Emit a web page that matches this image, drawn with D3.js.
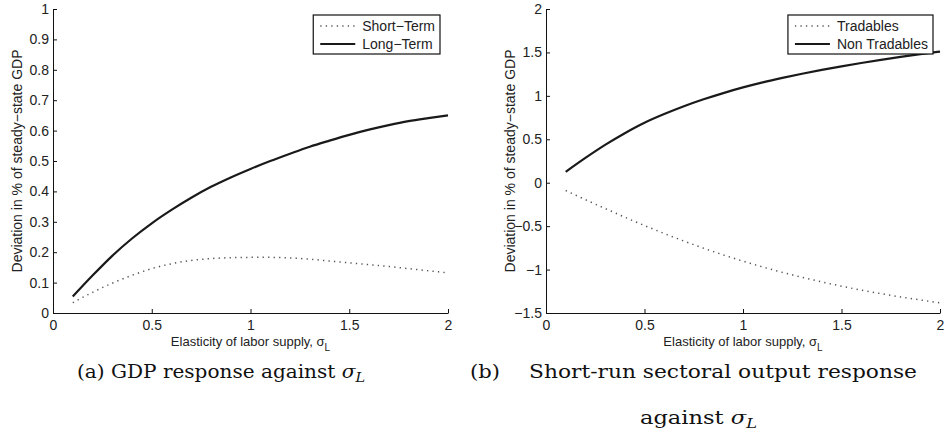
<!DOCTYPE html>
<html><head><meta charset="utf-8">
<script src="https://cdn.jsdelivr.net/npm/d3@7"></script>
<style>body{margin:0;background:#fff}svg{display:block}</style>
</head><body>
<svg id="c" width="945" height="443"></svg>
<script>
// ---- data ----
const sigmaL = [0.1,0.2,0.3,0.4,0.5,0.6,0.7,0.8,0.9,1.0,1.1,1.2,1.3,1.4,1.5,1.6,1.7,1.8,1.9,2.0];
const shortTerm = [0.034,0.068,0.098,0.124,0.146,0.162,0.173,0.179,0.182,0.183,0.183,0.181,0.177,0.171,0.165,0.159,0.153,0.146,0.139,0.132];
const longTerm  = [0.054,0.123,0.188,0.245,0.295,0.339,0.379,0.415,0.446,0.474,0.500,0.524,0.547,0.567,0.586,0.603,0.618,0.631,0.641,0.650];
const tradables    = [-0.09,-0.195,-0.297,-0.397,-0.493,-0.585,-0.672,-0.754,-0.831,-0.903,-0.970,-1.032,-1.089,-1.142,-1.191,-1.236,-1.277,-1.315,-1.350,-1.382];
const nonTradables = [0.125,0.285,0.435,0.57,0.69,0.79,0.88,0.96,1.032,1.097,1.155,1.207,1.255,1.299,1.34,1.378,1.414,1.448,1.48,1.51];
const xTicks  = [0,0.5,1,1.5,2];
const yTicksA = [0,0.1,0.2,0.3,0.4,0.5,0.6,0.7,0.8,0.9,1];
const yTicksB = [-1.5,-1,-0.5,0,0.5,1,1.5,2];
const legendA = ["Short\u2212Term","Long\u2212Term"];
const legendB = ["Tradables","Non Tradables"];
const xLabel = "Elasticity of labor supply, \u03C3";
const yLabel = "Deviation in % of steady\u2212state GDP";

const svg = d3.select("#c");
svg.append("rect").attr("width",945).attr("height",443).attr("fill","#fff");
const FONT = "'Liberation Sans', Arial, Helvetica, sans-serif";
const SERIF = "'DejaVu Serif', 'Liberation Serif', serif";

function panel(cfg){
  const x = d3.scaleLinear().domain([0,2]).range([cfg.x0,cfg.x1]);
  const y = d3.scaleLinear().domain(cfg.yDomain).range([313,9]);
  const g = svg.append("g");
  const fmt = d3.format("~g");
  const ax = g.append("g").attr("transform",`translate(0,313)`)
    .call(d3.axisBottom(x).tickValues(xTicks).tickFormat(fmt).tickSizeInner(-4).tickSizeOuter(0).tickPadding(6));
  const ay = g.append("g").attr("transform",`translate(${cfg.x0},0)`)
    .call(d3.axisLeft(y).tickValues(cfg.yTicks).tickFormat(fmt).tickSizeInner(-4).tickSizeOuter(0).tickPadding(4));
  [ax,ay].forEach(a=>{
    a.selectAll("text").attr("font-family",FONT).attr("font-size",14).attr("fill","#222");
    a.selectAll("line,path").attr("stroke","#111").attr("stroke-width",1);
  });
  ax.selectAll(".tick text").attr("dy","0.85em").attr("y",5);

  // lines
  const line = d3.line().x((d,i)=>x(sigmaL[i])).y(d=>y(d)).curve(d3.curveMonotoneX);
  g.append("path").datum(cfg.dotted).attr("d",line).attr("fill","none")
    .attr("stroke","#555").attr("stroke-width",1.5).attr("stroke-dasharray","1.3 4.2");
  g.append("path").datum(cfg.solid).attr("d",line).attr("fill","none")
    .attr("stroke","#1a1a1a").attr("stroke-width",2.2);

  // x label
  const xl = g.append("text").attr("x",(cfg.x0+cfg.x1)/2).attr("y",346)
    .attr("text-anchor","middle").attr("font-family",FONT).attr("font-size",13).attr("fill","#222");
  xl.append("tspan").text(xLabel);
  xl.append("tspan").attr("dy",5).attr("font-size",10).text("L");
  // y label
  g.append("text").attr("transform",`translate(${cfg.x0-31},161) rotate(-90)`)
    .attr("text-anchor","middle").attr("font-family",FONT).attr("font-size",14).attr("fill","#222")
    .text(yLabel);

  // legend
  const lg = g.append("g");
  const texts = cfg.legend.map((t,i)=>lg.append("text").attr("y",[26,44][i]).attr("dy","0.35em")
    .attr("font-family",FONT).attr("font-size",14).attr("fill","#222").text(t));
  const tw = d3.max(texts, t=>t.node().getComputedTextLength());
  const w = 49 + tw + 5;
  const bx = cfg.legendRight - w;
  lg.insert("rect",":first-child").attr("x",bx).attr("y",15).attr("width",w).attr("height",39)
    .attr("fill","#fff").attr("stroke","#111").attr("stroke-width",1.2);
  texts.forEach(t=>t.attr("x",bx+49));
  lg.append("line").attr("x1",bx+7).attr("x2",bx+42).attr("y1",26).attr("y2",26)
    .attr("stroke","#555").attr("stroke-width",1.5).attr("stroke-dasharray","1.3 4.2");
  lg.append("line").attr("x1",bx+7).attr("x2",bx+42).attr("y1",44).attr("y2",44)
    .attr("stroke","#1a1a1a").attr("stroke-width",2.2);
}

panel({x0:53,x1:448,yDomain:[0,1],yTicks:yTicksA,dotted:shortTerm,solid:longTerm,legend:legendA,legendRight:440});
panel({x0:546,x1:940,yDomain:[-1.5,2],yTicks:yTicksB,dotted:tradables,solid:nonTradables,legend:legendB,legendRight:933});

// captions
function caption(x, y, parts, targetW){
  const FS = 19;
  const t = svg.append("text").attr("x",x).attr("y",y).attr("font-family",SERIF).attr("font-size",FS).attr("fill","#111");
  parts.forEach(p=>{
    const s = t.append("tspan").text(p.t);
    if(p.it) s.attr("font-style","italic");
    if(p.sub) s.attr("font-size",FS*0.72).attr("dy",FS*0.22);
  });
  const w = t.node().getComputedTextLength();
  if(targetW>w) t.attr("textLength",targetW).attr("lengthAdjust","spacingAndGlyphs");
  return t;
}
caption(77,378,[{t:"(a) GDP response against "},{t:"\u03C3",it:true},{t:"L",it:true,sub:true}],288);
caption(470,378,[{t:"(b)"}],30);
caption(529,378,[{t:"Short-run sectoral output response"}],388);
caption(640,424,[{t:"against "},{t:"\u03C3",it:true},{t:"L",it:true,sub:true}],117);
</script>
</body></html>
